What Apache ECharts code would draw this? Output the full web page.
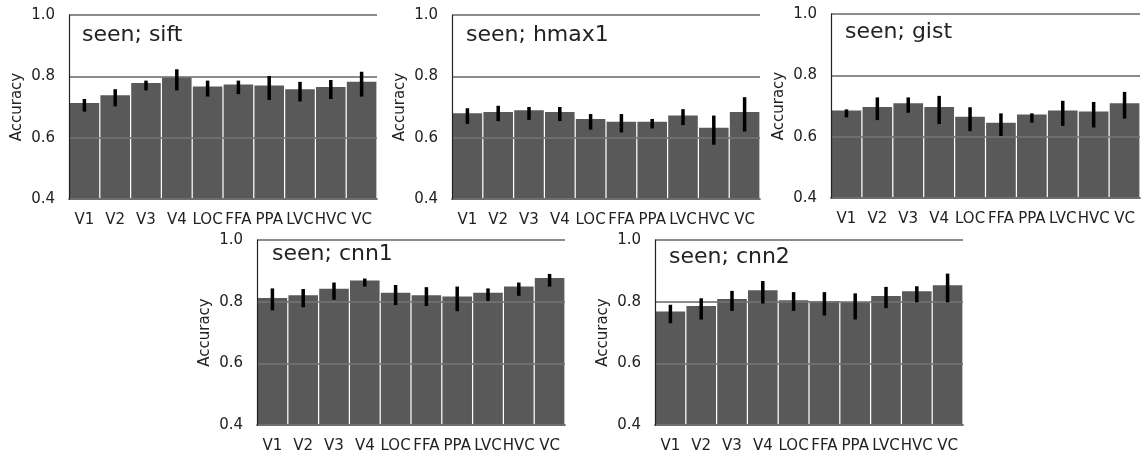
<!DOCTYPE html>
<html><head><meta charset="utf-8">
<script src="https://cdn.jsdelivr.net/npm/echarts@6/dist/echarts.min.js"></script>
<style>html,body{margin:0;padding:0;background:#fff}#c{width:1143px;height:458px}</style>
</head><body><div id="c"></div>
<script>
const categories = ['V1','V2','V3','V4','LOC','FFA','PPA','LVC','HVC','VC'];
const yTicks = [0.4, 0.6, 0.8, 1.0];

const siftMean = [0.713,0.738,0.778,0.797,0.767,0.773,0.770,0.758,0.765,0.782];
const siftLow  = [0.685,0.702,0.754,0.754,0.734,0.742,0.723,0.718,0.726,0.734];
const siftHigh = [0.726,0.758,0.786,0.823,0.786,0.786,0.801,0.782,0.788,0.815];

const hmaxMean = [0.680,0.684,0.689,0.684,0.661,0.652,0.652,0.672,0.632,0.684];
const hmaxLow  = [0.645,0.654,0.658,0.654,0.626,0.617,0.630,0.641,0.577,0.620];
const hmaxHigh = [0.696,0.704,0.700,0.700,0.677,0.677,0.661,0.693,0.672,0.732];

const gistMean = [0.685,0.697,0.709,0.697,0.665,0.645,0.672,0.685,0.682,0.709];
const gistLow  = [0.663,0.654,0.678,0.641,0.618,0.602,0.646,0.635,0.630,0.659];
const gistHigh = [0.689,0.728,0.728,0.733,0.696,0.676,0.676,0.717,0.713,0.746];

const cnn1Mean = [0.812,0.821,0.842,0.869,0.829,0.821,0.817,0.829,0.849,0.877];
const cnn1Low  = [0.772,0.782,0.806,0.849,0.789,0.786,0.769,0.802,0.819,0.849];
const cnn1High = [0.843,0.841,0.862,0.875,0.854,0.847,0.849,0.843,0.862,0.890];

const cnn2Mean = [0.768,0.786,0.809,0.837,0.805,0.801,0.798,0.818,0.834,0.853];
const cnn2Low  = [0.730,0.742,0.770,0.794,0.770,0.755,0.742,0.779,0.798,0.798];
const cnn2High = [0.790,0.811,0.835,0.867,0.831,0.831,0.827,0.848,0.850,0.891];

const panels = [
  {title:'seen; sift',  mean:siftMean, low:siftLow, high:siftHigh, left:69,  top:15,  width:308, height:184, tx:82,  ty:24},
  {title:'seen; hmax1', mean:hmaxMean, low:hmaxLow, high:hmaxHigh, left:452, top:15,  width:308, height:184, tx:466, ty:24},
  {title:'seen; gist',  mean:gistMean, low:gistLow, high:gistHigh, left:831, top:14,  width:309, height:184, tx:845, ty:21},
  {title:'seen; cnn1',  mean:cnn1Mean, low:cnn1Low, high:cnn1High, left:257, top:240, width:308, height:185, tx:272, ty:243},
  {title:'seen; cnn2',  mean:cnn2Mean, low:cnn2Low, high:cnn2High, left:655, top:240, width:308, height:185, tx:669, ty:246}
];

const FONT = 'DejaVu Sans';
const grid = [], xAxis = [], yAxis = [], series = [], title = [];
panels.forEach((p, i) => {
  grid.push({left:p.left, top:p.top, width:p.width, height:p.height});
  title.push({text:p.title, left:p.tx, top:p.ty, padding:0,
    textStyle:{fontFamily:FONT, fontSize:22, fontWeight:'normal', color:'#222'}});
  xAxis.push({type:'category', gridIndex:i, data:categories,
    axisLine:{show:true, lineStyle:{color:'#222', width:1.5}},
    axisTick:{show:false},
    axisLabel:{interval:0, fontFamily:FONT, fontSize:15, color:'#222', margin:14}});
  yAxis.push({type:'value', gridIndex:i, min:yTicks[0], max:yTicks[yTicks.length-1], interval:0.2, z:3,
    name:'Accuracy', nameLocation:'middle', nameGap:44, nameRotate:90,
    nameTextStyle:{fontFamily:FONT, fontSize:15, color:'#222'},
    axisLine:{show:true, lineStyle:{color:'#222', width:1.2}},
    axisTick:{show:false},
    axisLabel:{fontFamily:FONT, fontSize:15, color:'#222', margin:14, formatter:v => v.toFixed(1)},
    splitLine:{show:true, lineStyle:{color:'rgba(115,115,115,0.82)', width:2}}});
  series.push({type:'bar', xAxisIndex:i, yAxisIndex:i, data:p.mean, z:2,
    barCategoryGap:'4%', itemStyle:{color:'#595959'}, silent:true});
  series.push({type:'custom', xAxisIndex:i, yAxisIndex:i, z:5, silent:true,
    data:p.mean.map((m, k) => [k, p.low[k], p.high[k]]),
    encode:{x:0, y:[1,2]},
    renderItem:(params, api) => {
      const a = api.coord([api.value(0), api.value(1)]);
      const b = api.coord([api.value(0), api.value(2)]);
      return {type:'line', shape:{x1:a[0], y1:a[1], x2:b[0], y2:b[1]},
        style:{stroke:'#000', lineWidth:3.5}};
    }});
});

const chart = echarts.init(document.getElementById('c'), null, {renderer:'canvas'});
chart.setOption({animation:false, backgroundColor:'#fff', title, grid, xAxis, yAxis, series});
</script></body></html>
